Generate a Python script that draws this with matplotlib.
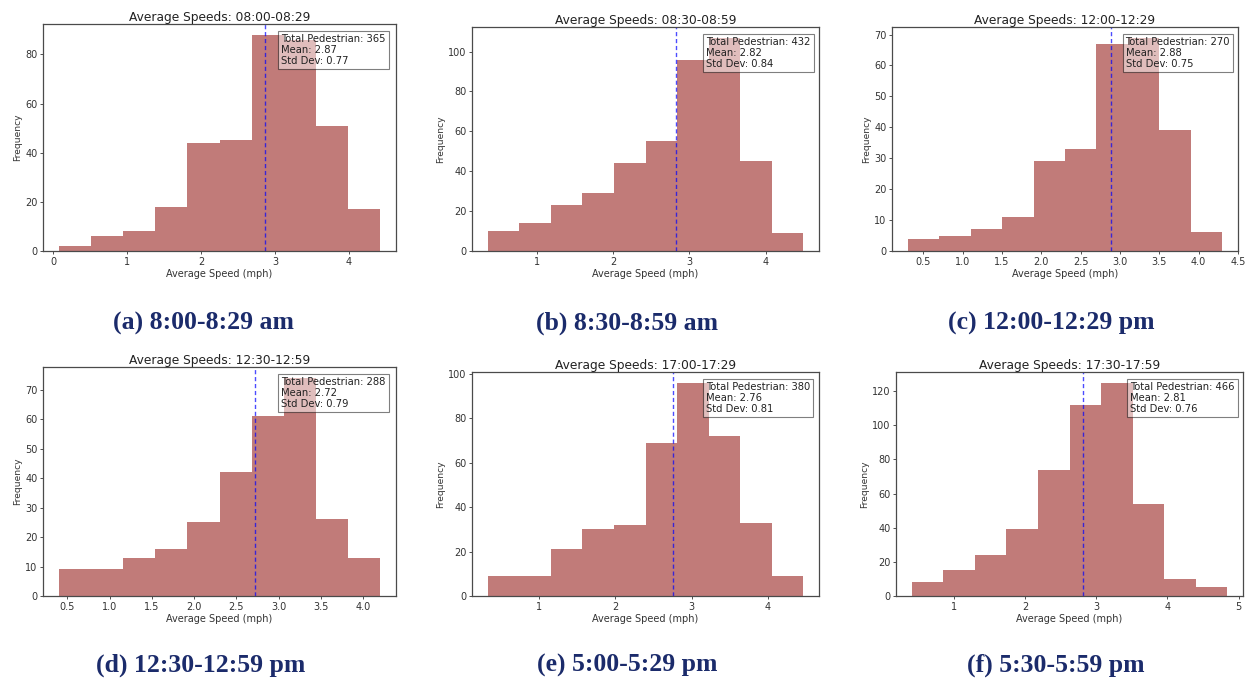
import numpy as np
import matplotlib
matplotlib.use("Agg")
import matplotlib.pyplot as plt

# ---- data ----
titles = ["Average Speeds: 08:00-08:29", "Average Speeds: 08:30-08:59",
          "Average Speeds: 12:00-12:29", "Average Speeds: 12:30-12:59",
          "Average Speeds: 17:00-17:29", "Average Speeds: 17:30-17:59"]
captions = ["(a) 8:00-8:29 am", "(b) 8:30-8:59 am", "(c) 12:00-12:29 pm",
            "(d) 12:30-12:59 pm", "(e) 5:00-5:29 pm", "(f) 5:30-5:59 pm"]
speed_min = [0.08, 0.36, 0.30, 0.40, 0.33, 0.41]
speed_max = [4.42, 4.49, 4.30, 4.20, 4.46, 4.84]
counts_a = [2, 6, 8, 18, 44, 45, 88, 86, 51, 17]
counts_b = [10, 14, 23, 29, 44, 55, 96, 107, 45, 9]
counts_c = [4, 5, 7, 11, 29, 33, 67, 69, 39, 6]
counts_d = [9, 9, 13, 16, 25, 42, 61, 74, 26, 13]
counts_e = [9, 9, 21, 30, 32, 69, 96, 72, 33, 9]
counts_f = [8, 15, 24, 39, 74, 112, 125, 54, 10, 5]
totals = [365, 432, 270, 288, 380, 466]
means = [2.87, 2.82, 2.88, 2.72, 2.76, 2.81]
stds = [0.77, 0.84, 0.75, 0.79, 0.81, 0.76]
all_counts = [counts_a, counts_b, counts_c, counts_d, counts_e, counts_f]

W, H = 1248, 684
fig = plt.figure(figsize=(W / 100, H / 100), dpi=100)

# axes boxes in pixels: left, right, top, bottom
boxes = [(43, 396, 24, 251), (472, 819, 27, 251), (892, 1238, 27, 251),
         (43, 396, 367, 596), (472, 819, 372, 596), (896, 1243, 372, 596)]
cap_pos = [(203, 323), (627, 323), (1051, 323), (201, 665), (627, 665), (1056, 665)]

bar_color = "#c17b79"
for i in range(6):
    l, r, t, b = boxes[i]
    ax = fig.add_axes([l / W, 1 - b / H, (r - l) / W, (b - t) / H])
    edges = np.linspace(speed_min[i], speed_max[i], len(all_counts[i]) + 1)
    ax.hist(edges[:-1], bins=edges, weights=all_counts[i], color=bar_color)
    ax.axvline(means[i], color="blue", linestyle="--", linewidth=1.0, alpha=0.7,
               dashes=(3, 2))
    ax.set_title(titles[i], fontsize=8.8, pad=2.5, color="#222222")
    ax.set_xlabel("Average Speed (mph)", fontsize=7.0, labelpad=1.5, color="#333333")
    ax.set_ylabel("Frequency", fontsize=6.6, labelpad=2, color="#333333")
    ax.tick_params(labelsize=7.0, length=2.5, width=0.6, pad=1.5, colors="#333333")
    for sp in ax.spines.values():
        sp.set_color("#4a4a4a")
        sp.set_linewidth(0.9)
    ax.text(0.675, 0.955,
            f"Total Pedestrian: {totals[i]}\nMean: {means[i]:.2f}\nStd Dev: {stds[i]:.2f}",
            transform=ax.transAxes, ha="left", va="top", fontsize=7.2,
            linespacing=1.12, color="#222222",
            bbox=dict(facecolor="white", alpha=0.5, edgecolor="black",
                      boxstyle="square,pad=0.3", linewidth=0.8))
    cx, cy = cap_pos[i]
    fig.text(cx / W, 1 - cy / H, captions[i], ha="center", va="center",
             fontsize=18.5, fontweight="bold", family="Liberation Serif",
             color="#1b2b6b")

fig.savefig("out.png", dpi=100)
